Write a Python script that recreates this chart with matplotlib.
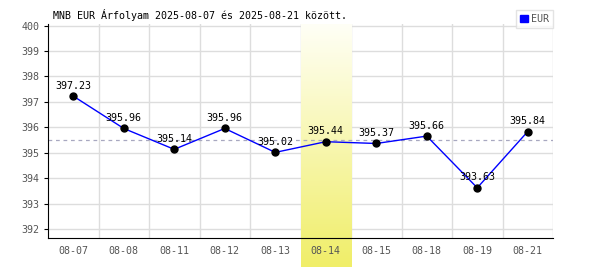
import numpy as np
import matplotlib
matplotlib.use("Agg")
import matplotlib.pyplot as plt

dates = ['08-07', '08-08', '08-11', '08-12', '08-13', '08-14', '08-15', '08-18', '08-19', '08-21']
eur = [397.23, 395.96, 395.14, 395.96, 395.02, 395.44, 395.37, 395.66, 393.63, 395.84]
highlight = '08-14'
title = 'MNB EUR Árfolyam 2025-08-07 és 2025-08-21 között.'

plt.rcParams['font.family'] = ['DejaVu Sans Mono']
fs = 7.2

fig = plt.figure(figsize=(6, 2.7), dpi=100)
ax = fig.add_axes([48 / 600, 1 - 238 / 270, 505 / 600, 214 / 270])

x = np.arange(len(dates))
ymin, ymax = 391.66, 400.06

# grid
for yv in range(392, 401):
    ax.axhline(yv, color='#dddddd', lw=1, zorder=0)
for xv in x[:-1] + 0.5:
    ax.axvline(xv, color='#dddddd', lw=1, zorder=0)
ax.axvline(len(dates) - 0.5, color='#dddddd', lw=1, zorder=0)

# highlighted day, gradient runs below the axis too
hi = dates.index(highlight)
grad = np.linspace(0, 1, 256).reshape(-1, 1)
cmap = matplotlib.colors.LinearSegmentedColormap.from_list('yel', ['#fffff6', '#f0ee68'])
ybot = ymin - (267 - 238) / 214 * (ymax - ymin)
ax.imshow(grad, extent=[hi - 0.5, hi + 0.5, ybot, ymax], cmap=cmap, aspect='auto',
          origin='upper', clip_on=False, zorder=0.5)
ax.set_xlim(-0.5, len(dates) - 0.5)
ax.set_ylim(ymin, ymax)

# average
ax.axhline(np.mean(eur), color='#a8a8c0', lw=0.9, ls=(0, (3, 3)), zorder=1)

ax.plot(x, eur, color='#0000ff', lw=1, zorder=2)
ax.plot(x, eur, 'o', color='black', ms=5, zorder=3)
for xi, v in zip(x, eur):
    ax.annotate(f'{v:.2f}', (xi, v), xytext=(0, 4), textcoords='offset points',
                ha='center', va='bottom', fontsize=fs, color='black', zorder=4)

ax.set_xticks(x)
ax.set_xticklabels(dates)
ax.set_yticks(range(392, 401))
ax.tick_params(axis='both', labelsize=fs, labelcolor='#555555', length=0, pad=6)
ax.tick_params(axis='y', length=3, color='black', pad=3)
for s in ['top', 'right']:
    ax.spines[s].set_visible(False)
ax.spines['left'].set_zorder(5)
ax.spines['bottom'].set_zorder(5)

fig.text(53 / 600, 1 - 15 / 270, title, fontsize=fs, color='black', va='center', ha='left')

leg = ax.legend(handles=[matplotlib.patches.Patch(color='#0000ff', label='EUR')],
                loc='upper right', bbox_to_anchor=(1.0, 1 + 14 / 214), fontsize=fs,
                frameon=True, fancybox=False, handlelength=0.8, handleheight=0.8,
                handletextpad=0.3, borderpad=0.4, borderaxespad=0, labelcolor='#555555')
leg.get_frame().set_edgecolor('#dddddd')
leg.get_frame().set_linewidth(1)

fig.savefig('out.png', dpi=100)
